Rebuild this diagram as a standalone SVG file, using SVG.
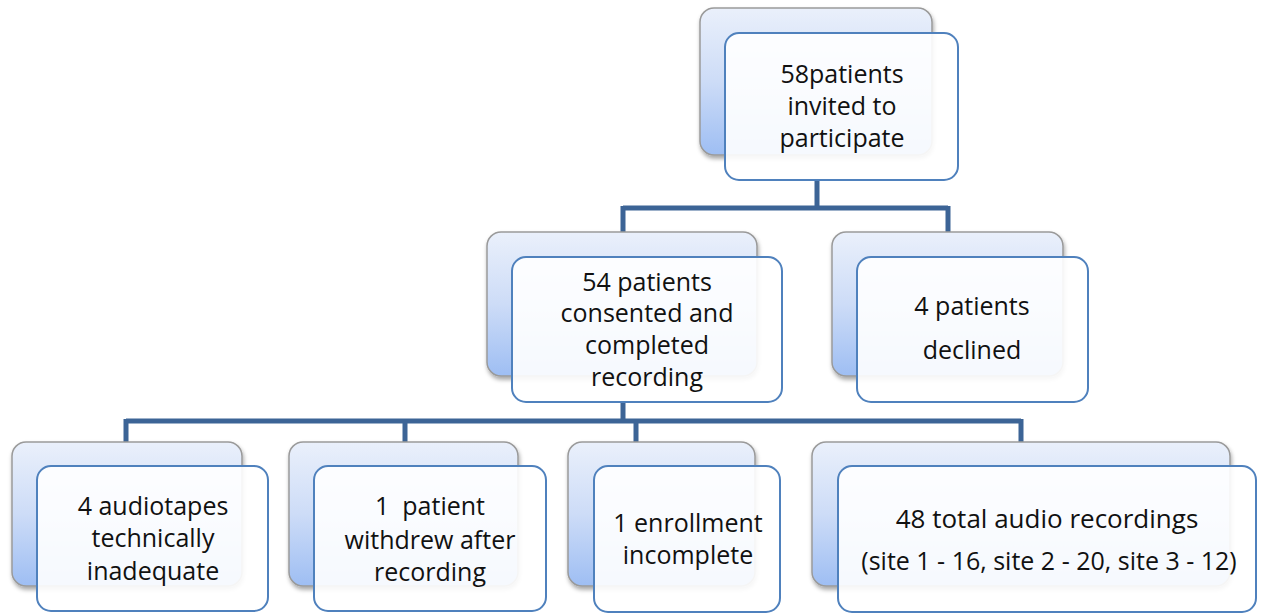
<svg xmlns="http://www.w3.org/2000/svg" width="1264" height="616" viewBox="0 0 1264 616">
<defs>
<linearGradient id="bg" x1="0" y1="0" x2="0" y2="1">
<stop offset="0" stop-color="#eaf0fb"/>
<stop offset="0.5" stop-color="#cddcf7"/>
<stop offset="1" stop-color="#9ebef3"/>
</linearGradient>
<filter id="sh" x="-10%" y="-10%" width="120%" height="130%">
<feDropShadow dx="1" dy="3" stdDeviation="2" flood-color="#000" flood-opacity="0.35"/>
</filter>
<style>
.back{fill:url(#bg);stroke:#9a9a9a;stroke-width:1.5;filter:url(#sh)}
.front{fill:#ffffff;fill-opacity:0.9;stroke:#4f81bd;stroke-width:2}
.t{font-family:"Open Sans","Noto Sans",sans-serif;font-size:25px;fill:#111;text-anchor:middle}
.big{font-size:26px}
.c{fill:none;stroke:#3c6496;stroke-width:5}
</style>
</defs>
<g id="connectors">
<path class="c" d="M817 180V208M623 208H948M623 206V232M948 206V232"/>
<path class="c" d="M623 402V421M126 421H1021M126 419V442M405 419V442M636 419V442M1021 419V442"/>
</g>
<g id="n1">
<rect class="back" x="700" y="8" width="232" height="147" rx="14"/>
<rect class="front" x="725" y="33" width="233" height="147" rx="14"/>
<text class="t" x="842" y="83">58patients</text>
<text class="t" x="842" y="115">invited to</text>
<text class="t" x="842" y="147">participate</text>
</g>
<g id="n2">
<rect class="back" x="487" y="232" width="270" height="144" rx="14"/>
<rect class="front" x="512" y="257" width="270" height="145" rx="14"/>
<text class="t" x="647" y="291">54 patients</text>
<text class="t" x="647" y="322">consented and</text>
<text class="t" x="647" y="354">completed</text>
<text class="t" x="647" y="386">recording</text>
</g>
<g id="n3">
<rect class="back" x="832" y="232" width="231" height="144" rx="14"/>
<rect class="front" x="857" y="257" width="231" height="145" rx="14"/>
<text class="t" x="972" y="315">4 patients</text>
<text class="t" x="972" y="359">declined</text>
</g>
<g id="n4">
<rect class="back" x="12" y="442" width="230" height="144" rx="14"/>
<rect class="front" x="37" y="466" width="231" height="145" rx="14"/>
<text class="t" x="153" y="515">4 audiotapes</text>
<text class="t" x="153" y="547">technically</text>
<text class="t" x="153" y="580">inadequate</text>
</g>
<g id="n5">
<rect class="back" x="289" y="442" width="229" height="144" rx="14"/>
<rect class="front" x="314" y="466" width="232" height="145" rx="14"/>
<text class="t" x="430" y="515" xml:space="preserve">1  patient</text>
<text class="t" x="430" y="549">withdrew after</text>
<text class="t" x="430" y="581">recording</text>
</g>
<g id="n6">
<rect class="back" x="568" y="442" width="187" height="144" rx="14"/>
<rect class="front" x="594" y="466" width="186" height="146" rx="14"/>
<text class="t" x="688" y="532">1 enrollment</text>
<text class="t" x="688" y="564">incomplete</text>
</g>
<g id="n7">
<rect class="back" x="812" y="442" width="418" height="144" rx="14"/>
<rect class="front" x="838" y="466" width="418" height="146" rx="14"/>
<text class="t big" x="1047" y="528">48 total audio recordings</text>
<text class="t" x="1049" y="570">(site 1 - 16, site 2 - 20, site 3 - 12)</text>
</g>
</svg>
